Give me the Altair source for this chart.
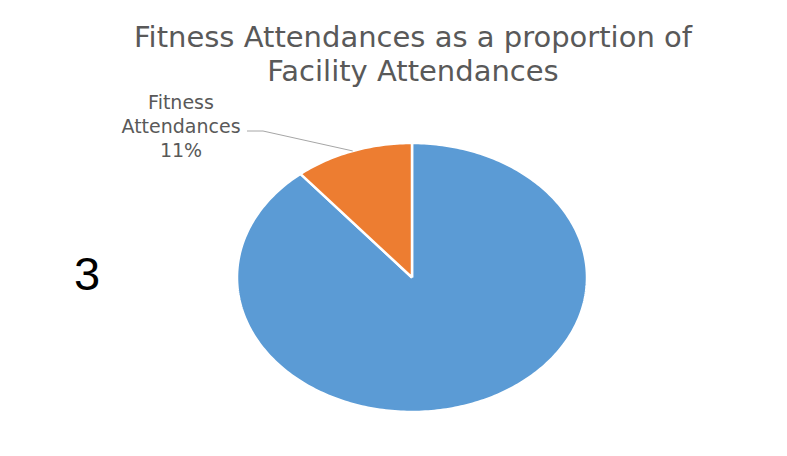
import altair as alt
import pandas as pd
import numpy as np

# ---- data ----
CATEGORIES = ["Other Attendances", "Fitness Attendances"]
VALUES = [89, 11]
COLORS = ["#5B9BD5", "#ED7D31"]
TITLE_LINES = ["Fitness Attendances as a proportion of", "Facility Attendances"]
LABELLED = "Fitness Attendances"
LABEL_LINES = ["Fitness", "Attendances"]
SLIDE_NUMBER = "3"

total = float(sum(VALUES))

# wedge outlines in unit space (pie starts at 12 o'clock, clockwise)
rows = []
start = 0.0
mid_angle = {}
for cat, val in zip(CATEGORIES, VALUES):
    a0 = start / total * 2 * np.pi
    a1 = (start + val) / total * 2 * np.pi
    mid_angle[cat] = (a0 + a1) / 2
    n = max(3, int(np.degrees(a1 - a0)) + 2)
    angs = np.linspace(a0, a1, n)
    idx = 0
    rows.append({"cat": cat, "i": idx, "x": 0.0, "y": 0.0}); idx += 1
    for a in angs:
        rows.append({"cat": cat, "i": idx, "x": float(np.sin(a)), "y": float(np.cos(a))}); idx += 1
    rows.append({"cat": cat, "i": idx, "x": 0.0, "y": 0.0})
    start += val
wedges = pd.DataFrame(rows)

pct = round(VALUES[CATEGORIES.index(LABELLED)] / total * 100)
label_text = "\n".join(LABEL_LINES + [f"{pct}%"])
ma = mid_angle[LABELLED]
edge_x, edge_y = float(np.sin(ma)), float(np.cos(ma))

W, H = 771, 440
xs = alt.Scale(domain=[-1, 1], range=[229, 579])
ys = alt.Scale(domain=[-1, 1], range=[404, 135])

pie = alt.Chart(wedges).mark_line(strokeWidth=2.5, strokeJoin="round").encode(
    x=alt.X("x:Q", scale=xs, axis=None),
    y=alt.Y("y:Q", scale=ys, axis=None),
    fill=alt.Fill("cat:N", scale=alt.Scale(domain=CATEGORIES, range=COLORS), legend=None),
    stroke=alt.value("white"),
    detail="cat:N",
    order="i:Q",
)

one = pd.DataFrame({"k": [0]})

leader_diag = alt.Chart(one).mark_rule(color="#A6A6A6", strokeWidth=1).encode(
    x=alt.datum(edge_x), y=alt.datum(edge_y),
    x2=alt.value(255), y2=alt.value(123),
)
leader_h = alt.Chart(one).mark_rule(color="#A6A6A6", strokeWidth=1).encode(
    x=alt.value(239), x2=alt.value(255), y=alt.value(123),
)

label = alt.Chart(pd.DataFrame({"t": [label_text]})).mark_text(
    font="DejaVu Sans", fontSize=19, color="#595959", align="center",
    baseline="alphabetic", lineBreak="\n", lineHeight=24,
).encode(text="t:N", x=alt.value(173), y=alt.value(101))

title = alt.Chart(pd.DataFrame({"t": ["\n".join(TITLE_LINES)]})).mark_text(
    font="DejaVu Sans", fontSize=29, color="#595959", align="center",
    baseline="alphabetic", lineBreak="\n", lineHeight=34,
).encode(text="t:N", x=alt.value(405), y=alt.value(39))

num = alt.Chart(pd.DataFrame({"t": [SLIDE_NUMBER]})).mark_text(
    font="Liberation Sans", fontSize=47, color="#000000", align="center",
    baseline="alphabetic",
).encode(text="t:N", x=alt.value(79), y=alt.value(282))

chart = alt.layer(pie, leader_diag, leader_h, label, title, num).properties(
    width=W, height=H, autosize=alt.AutoSizeParams(type="none"), padding=0,
    background="white",
).configure_view(stroke=None)

chart.save("out.html", embed_options={"renderer": "svg", "actions": False})
